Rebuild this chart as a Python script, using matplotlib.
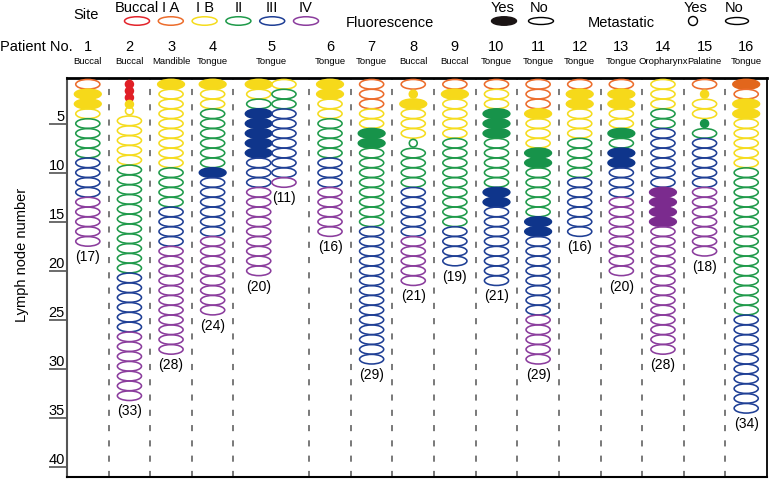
import matplotlib
matplotlib.use('Agg')
import matplotlib.pyplot as plt
from matplotlib.patches import Ellipse
from matplotlib import transforms

plt.rcParams['font.family'] = ['Liberation Sans', 'DejaVu Sans']

patient_nos = list(range(1, 17))
patient_sites = ['Buccal', 'Buccal', 'Mandible', 'Tongue', 'Tongue', 'Tongue', 'Tongue', 'Buccal',
                 'Buccal', 'Tongue', 'Tongue', 'Tongue', 'Tongue', 'Oropharynx', 'Palatine', 'Tongue']

# one column per dissected side, patient 5 has two
column_patient = [1, 2, 3, 4, 5, 5, 6, 7, 8, 9, 10, 11, 12, 13, 14, 15, 16]
# run-length node codes, top to bottom: level letter, f = fluorescent, c = metastatic, then count
column_nodes = [
    'A1 Yf2 Y1 G4 B4 P5',
    'Rfc3 Yfc1 Yc1 Y5 G11 B6 P7',
    'Yf1 Y8 G4 B4 P11',
    'Yf1 Y2 G6 Bf1 B6 P8',
    'Yf1 Y1 G1 Bf5 B3 P9',
    'Y1 G2 B7 P1',
    'Yf2 Y2 G4 B3 P5',
    'A3 Y2 Gf2 G8 B14',
    'A1 Yfc1 Yf1 Y3 Gc1 G4 B5 P5',
    'A1 Yf1 Y4 G9 B4',
    'A1 Y2 Gf3 G5 Bf2 B8',
    'A3 Yf1 Y3 Gf2 G5 Bf2 B8 P5',
    'A1 Yf2 Y3 G4 B6',
    'A1 Yf2 Y2 Gf1 G1 Bf2 B3 P8',
    'Y3 G2 B6 Pf4 P13',
    'A1 Yfc1 Y2 Gfc1 G1 B5 P7',
    'Af1 A1 Yf2 Y5 G15 B10',
]
column_totals = [17, 33, 28, 24, 20, 11, 16, 29, 21, 19, 21, 29, 16, 20, 28, 18, 34]

level_names = ['Buccal', 'I A', 'I B', 'II', 'III', 'IV']
level_codes = ['R', 'A', 'Y', 'G', 'B', 'P']
line_colors = ['#e3242b', '#ec6d2c', '#f5dc1e', '#1f9a4a', '#1f3f95', '#8b3d9d']
fill_colors = ['#e01f26', '#e2661c', '#f6d91a', '#17934a', '#0f358b', '#7b2b8e']
y_ticks = [5, 10, 15, 20, 25, 30, 35, 40]


def expand(spec):
    nodes = []
    for tok in spec.split():
        flags = tok[1:].rstrip('0123456789')
        n = int(tok[1 + len(flags):])
        nodes += [(level_codes.index(tok[0]), 'f' in flags, 'c' in flags)] * n
    return nodes


fig = plt.figure(figsize=(7.7, 4.79), dpi=100)
ax0 = fig.add_axes([0, 0, 1, 1])
ax0.set_xlim(0, 770)
ax0.set_ylim(479, 0)
ax0.axis('off')

ax = fig.add_axes([67 / 770, 2 / 479, 700 / 770, 399 / 479])

# slot layout: every patient gets one unit, the two-sided patient a wider slot
slot_w = [1.82 if column_patient.count(p) > 1 else 1.0 for p in patient_nos]
slot_start = [sum(slot_w[:i]) for i in range(len(patient_nos))]
total_w = sum(slot_w)

col_x = []
for p in column_patient:
    i = patient_nos.index(p)
    cols = [c for c, q in enumerate(column_patient) if q == p]
    k = cols.index(len(col_x))
    col_x.append(slot_start[i] + slot_w[i] * (k + 1) / (len(cols) + 1))

for x, spec, total in zip(col_x, column_nodes, column_totals):
    nodes = expand(spec)
    y = 1.0
    prev_small = False
    for j, (lev, fluo, meta) in enumerate(nodes):
        if j > 0:
            y += 0.68 if (meta and prev_small) else 1.0
        prev_small = meta
        if meta:
            w, h = 0.19, 0.78
        else:
            w, h = (0.64, 1.0) if fluo else (0.58, 0.98)
        e = Ellipse((x, y), w, h,
                    facecolor=fill_colors[lev] if fluo else 'none',
                    edgecolor=fill_colors[lev] if fluo else line_colors[lev],
                    lw=1.15, zorder=3)
        ax.add_patch(e)
    ax.text(x, y + 1.6, f'({total})', ha='center', va='center', fontsize=10)

for s in slot_start[1:]:
    ax.axvline(s, color='#555555', lw=1.1, ls=(0, (4, 6)), zorder=1)

ax.set_xlim(0, total_w)
ax.set_ylim(41.0, 0.36)
ax.set_xticks([])
ax.set_yticks(y_ticks)
ax.tick_params(axis='y', length=13, width=1.1, color='#444444', labelleft=False)
for t in y_ticks:
    ax.text(-0.003, t, str(t), transform=transforms.blended_transform_factory(ax.transAxes, ax.transData),
            ha='right', va='bottom', fontsize=10.5)
ax.spines['top'].set_linewidth(2)
ax.spines['right'].set_linewidth(1.3)
ax.spines['left'].set_linewidth(1.5)
ax.spines['left'].set_color('#555555')
ax.spines['bottom'].set_linewidth(1.5)

# header: legends and patient labels
ax0.text(86, 15, 'Site', ha='center', va='center', fontsize=10.5)
for i, name in enumerate(level_names):
    lx = 137 + 33.8 * i
    ax0.text(lx, 8, name, ha='center', va='center', fontsize=10.5)
    ax0.add_patch(Ellipse((lx, 21), 25, 8.5, facecolor='none', edgecolor=line_colors[i], lw=1.1))

ax0.text(390, 23, 'Fluorescence', ha='center', va='center', fontsize=10.5)
ax0.text(503, 8, 'Yes', ha='center', va='center', fontsize=10.5)
ax0.add_patch(Ellipse((504, 21), 25, 8.5, facecolor='#1a1414', edgecolor='#1a1414', lw=1))
ax0.text(539, 8, 'No', ha='center', va='center', fontsize=10.5)
ax0.add_patch(Ellipse((541, 21), 25, 7, facecolor='none', edgecolor='black', lw=1))

ax0.text(621, 23, 'Metastatic', ha='center', va='center', fontsize=10.5)
ax0.text(696, 8, 'Yes', ha='center', va='center', fontsize=10.5)
ax0.add_patch(Ellipse((693, 21), 9, 9, facecolor='none', edgecolor='black', lw=1))
ax0.text(734, 8, 'No', ha='center', va='center', fontsize=10.5)
ax0.add_patch(Ellipse((737, 21), 23, 7, facecolor='none', edgecolor='black', lw=1))

ax0.text(0, 47, 'Patient No.', ha='left', va='center', fontsize=10.5)
head = transforms.blended_transform_factory(ax.transData, ax0.transData)
for i, (p, site) in enumerate(zip(patient_nos, patient_sites)):
    cx = slot_start[i] + slot_w[i] / 2
    ax0.text(cx, 47, str(p), transform=head, ha='center', va='center', fontsize=10.5)
    ax0.text(cx, 61, site, transform=head, ha='center', va='center', fontsize=6.8)

ax0.text(22, 255, 'Lymph node number', rotation=90, ha='center', va='center', fontsize=10.5)

fig.savefig('out.png', dpi=100)
